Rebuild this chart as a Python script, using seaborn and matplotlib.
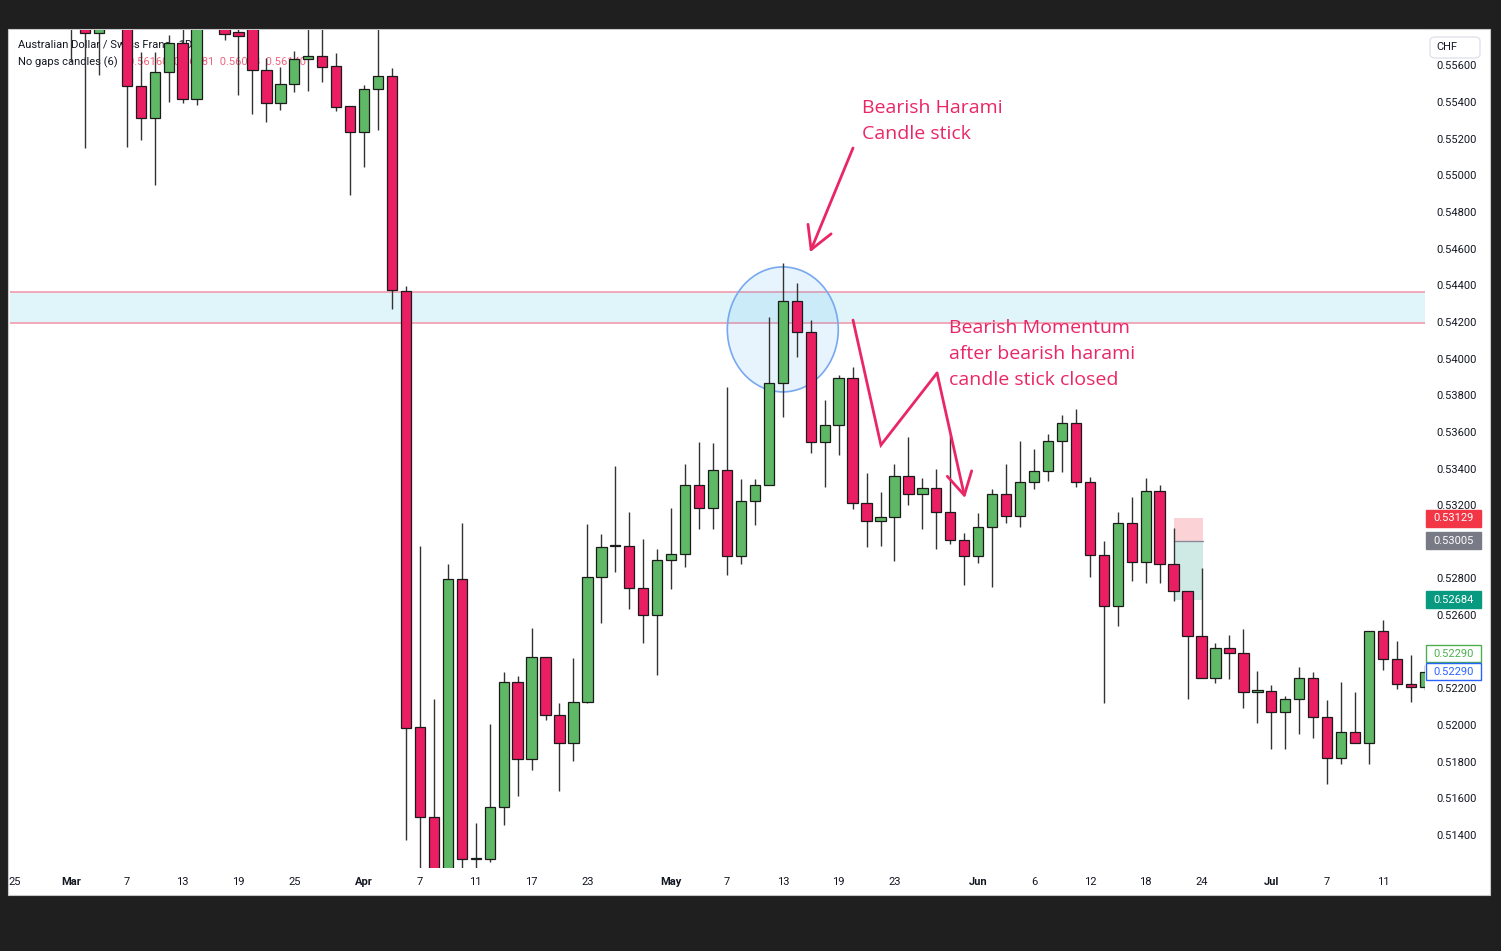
import numpy as np
import pandas as pd
import matplotlib
matplotlib.use("Agg")
import matplotlib.pyplot as plt
import seaborn as sns
from matplotlib.patches import Rectangle, Ellipse, FancyBboxPatch
from matplotlib.transforms import blended_transform_factory

# ---------------- data ----------------
first_day = "2025-03-03"
opens = [0.5598, 0.5588, 0.55777, 0.5590, 0.5598, 0.55487, 0.55313, 0.55564, 0.55722, 0.55416,
         0.5584, 0.5590, 0.5578, 0.5582, 0.55575, 0.55395, 0.55498, 0.55635, 0.55651, 0.55596,
         0.55378, 0.55236, 0.55471, 0.55542, 0.54369, 0.51989, 0.51498, 0.5115, 0.52797, 0.51269,
         0.51269, 0.51553, 0.52235, 0.51815, 0.52371, 0.52055, 0.51902, 0.52126, 0.52808, 0.52977,
         0.52977, 0.52748, 0.52601, 0.52901, 0.52933, 0.5331, 0.53184, 0.53392, 0.52923, 0.53223,
         0.5331, 0.53867, 0.54314, 0.54145, 0.53545, 0.53637, 0.53894, 0.53212, 0.53114, 0.53135,
         0.53359, 0.53261, 0.53294, 0.53163, 0.5301, 0.52923, 0.53081, 0.53261, 0.53141, 0.53326,
         0.53386, 0.5355, 0.53648, 0.53326, 0.52928, 0.5265, 0.53103, 0.5289, 0.53277, 0.52879,
         0.52732, 0.52486, 0.52257, 0.5242, 0.52393, 0.5218, 0.52186, 0.52071, 0.52142, 0.52257,
         0.52044, 0.5182, 0.51962, 0.51902, 0.52513, 0.5236, 0.52224, 0.52208]
highs = [0.5603, 0.5592, 0.5596, 0.5605, 0.5603, 0.55673, 0.55673, 0.55766, 0.5581, 0.5590,
         0.5595, 0.5593, 0.5586, 0.5586, 0.5564, 0.55591, 0.5568, 0.5581, 0.5581, 0.5567,
         0.55378, 0.55493, 0.5581, 0.55586, 0.54396, 0.52977, 0.52142, 0.52879, 0.53103, 0.51465,
         0.52006, 0.5229, 0.52268, 0.5253, 0.52371, 0.5212, 0.52366, 0.53097, 0.53043, 0.53414,
         0.53163, 0.53015, 0.52961, 0.53184, 0.53425, 0.53545, 0.53539, 0.53845, 0.53343, 0.53343,
         0.54227, 0.54521, 0.54412, 0.5421, 0.53774, 0.5391, 0.53954, 0.53375, 0.53272, 0.53425,
         0.53572, 0.53348, 0.53397, 0.53583, 0.53048, 0.53157, 0.53288, 0.53425, 0.5355, 0.53506,
         0.53588, 0.53692, 0.53725, 0.53354, 0.53004, 0.53163, 0.53244, 0.53348, 0.5331, 0.53075,
         0.52732, 0.52857, 0.52448, 0.52491, 0.52524, 0.52295, 0.52219, 0.52159, 0.52317, 0.5229,
         0.52137, 0.52235, 0.5218, 0.52513, 0.52573, 0.52459, 0.52382, 0.5233]
lows = [0.55618, 0.55149, 0.55547, 0.5584, 0.55154, 0.55193, 0.54947, 0.55400, 0.55395, 0.55384,
        0.5581, 0.5574, 0.55438, 0.55335, 0.55291, 0.55356, 0.55455, 0.5546, 0.55509, 0.55351,
        0.54892, 0.55045, 0.55247, 0.5427, 0.51373, 0.51198, 0.5098, 0.5100, 0.5118, 0.5120,
        0.51253, 0.51455, 0.51613, 0.51755, 0.52028, 0.5164, 0.51804, 0.5212, 0.52557, 0.52835,
        0.52633, 0.52448, 0.52273, 0.52742, 0.52862, 0.5307, 0.5307, 0.52819, 0.52879, 0.53092,
        0.5331, 0.53681, 0.54008, 0.53485, 0.53299, 0.53474, 0.53179, 0.52972, 0.52977, 0.52895,
        0.53201, 0.5307, 0.52961, 0.52988, 0.52764, 0.52884, 0.52753, 0.53103, 0.53081, 0.53288,
        0.53332, 0.53381, 0.53299, 0.52808, 0.5212, 0.52541, 0.52786, 0.52775, 0.52775, 0.52677,
        0.52142, 0.52257, 0.52229, 0.52251, 0.52093, 0.52011, 0.51869, 0.51869, 0.51951, 0.51929,
        0.51678, 0.51787, 0.51902, 0.51787, 0.523, 0.52197, 0.52126, 0.5219]
closes = [0.5588, 0.55777, 0.5590, 0.5600, 0.55487, 0.55313, 0.55564, 0.55722, 0.55416, 0.5584,
          0.5588, 0.5577, 0.5576, 0.55575, 0.55395, 0.55498, 0.55635, 0.55651, 0.55591, 0.55373,
          0.55236, 0.55471, 0.55542, 0.54374, 0.51984, 0.51498, 0.5112, 0.52797, 0.51269, 0.51274,
          0.51553, 0.52235, 0.51815, 0.52371, 0.52055, 0.51902, 0.52126, 0.52808, 0.52972, 0.52983,
          0.52748, 0.52601, 0.52901, 0.52933, 0.5331, 0.53184, 0.53392, 0.52923, 0.53223, 0.5331,
          0.53867, 0.54314, 0.54145, 0.53545, 0.53637, 0.53894, 0.53212, 0.53114, 0.53135, 0.53359,
          0.53261, 0.53294, 0.53163, 0.5301, 0.52923, 0.53081, 0.53261, 0.53141, 0.53326, 0.53386,
          0.5355, 0.53648, 0.53326, 0.52928, 0.5265, 0.53103, 0.5289, 0.53277, 0.52879, 0.52732,
          0.52486, 0.52257, 0.5242, 0.52393, 0.5218, 0.52191, 0.52071, 0.52142, 0.52257, 0.52044,
          0.5182, 0.51962, 0.51902, 0.52513, 0.5236, 0.52224, 0.52208, 0.5229]

tick_dates = ["2025-02-25", "2025-03-03", "2025-03-07", "2025-03-13", "2025-03-19", "2025-03-25",
              "2025-04-01", "2025-04-07", "2025-04-11", "2025-04-17", "2025-04-23", "2025-05-01",
              "2025-05-07", "2025-05-13", "2025-05-19", "2025-05-23", "2025-06-02", "2025-06-06",
              "2025-06-12", "2025-06-18", "2025-06-24", "2025-07-01", "2025-07-07", "2025-07-11"]
tick_labels = ["25", "Mar", "7", "13", "19", "25", "Apr", "7", "11", "17", "23", "May",
               "7", "13", "19", "23", "Jun", "6", "12", "18", "24", "Jul", "7", "11"]
month_names = ["Mar", "Apr", "May", "Jun", "Jul"]
price_ticks = [0.514, 0.516, 0.518, 0.520, 0.522, 0.526, 0.528, 0.532, 0.534, 0.536, 0.538,
               0.540, 0.542, 0.544, 0.546, 0.548, 0.550, 0.552, 0.554, 0.556]

zone_low, zone_high = 0.54194, 0.54363
stop_price, entry_price, target_price = 0.53129, 0.53005, 0.52684
last_price = 0.52290
legend_values = "0.56160  0.56181  0.56098  0.56140"

# ---------------- style ----------------
GREEN = "#5fb865"
RED = "#e91e63"
ANN = "#ea2766"
TXT = "#131722"

sns.set_theme(style="white")
plt.rcParams["font.family"] = ["Roboto", "DejaVu Sans"]

W, H = 1501, 951
fig = plt.figure(figsize=(W / 100, H / 100), dpi=100, facecolor="#1f1f1f")
fig.patches.append(Rectangle((8 / W, 1 - 895 / H), (1490 - 8) / W, (895 - 29) / H,
                             transform=fig.transFigure, facecolor="white",
                             edgecolor="#c8c8c8", linewidth=0.8, zorder=-5))
ax = fig.add_axes([10 / W, 1 - 868 / H, 1415 / W, 838 / H])
ax.set_facecolor("white")
for s in ax.spines.values():
    s.set_visible(False)

df = pd.DataFrame({"open": opens, "high": highs, "low": lows, "close": closes})
df["x"] = np.arange(len(df))
up = df["close"] >= df["open"]
dn = ~up

# zone and circle
ax.axhspan(zone_low, zone_high, color="#e0f5fa", zorder=0.5, lw=0)
ax.axhline(zone_low, color="#f0a3b3", lw=1.3, zorder=0.6)
ax.axhline(zone_high, color="#f0a3b3", lw=1.3, zorder=0.6)
ax.add_patch(Ellipse((51.0, 0.54159), width=7.95, height=0.00682,
                     facecolor=(0.16, 0.62, 0.93, 0.11), edgecolor="#78a8f0", lw=1.2, zorder=1.5))

# position tool boxes
ax.add_patch(Rectangle((79.0, entry_price), 2.1, stop_price - entry_price,
                       facecolor="#fbd3d7", edgecolor="none", zorder=1))
ax.add_patch(Rectangle((79.0, target_price), 2.1, entry_price - target_price,
                       facecolor="#cfe9e4", edgecolor="none", zorder=1))
ax.plot([79.0, 81.1], [entry_price, entry_price], color="#8a8d96", lw=1, zorder=1.1)

# candles
ax.vlines(df["x"], df["low"], df["high"], color="#333333", lw=1.0, zorder=2)
ax.bar(df["x"][up], (df["close"] - df["open"])[up], bottom=df["open"][up], width=0.74,
       color=GREEN, edgecolor="#1b1b1b", linewidth=0.9, zorder=3)
ax.bar(df["x"][dn], (df["open"] - df["close"])[dn], bottom=df["close"][dn], width=0.74,
       color=RED, edgecolor="#1b1b1b", linewidth=0.9, zorder=3)

ax.set_xlim(-4.371, 97.013)
ax.set_ylim(0.512200, 0.557929)

# axes ticks
tick_pos = [int(np.busday_count(first_day, d)) for d in tick_dates]
ax.set_xticks(tick_pos)
ax.set_xticklabels(tick_labels)
for lab in ax.get_xticklabels():
    if lab.get_text() in month_names:
        lab.set_fontweight("bold")
ax.tick_params(axis="x", length=0, pad=6.5, labelsize=8, labelcolor=TXT)
ax.yaxis.tick_right()
ax.set_yticks(price_ticks)
ax.set_yticklabels([f"{p:.5f}" for p in price_ticks])
ax.tick_params(axis="y", length=0, pad=8.5, labelsize=8, labelcolor=TXT)
ax.grid(False)

# price labels on the scale
bt = blended_transform_factory(ax.transAxes, ax.transData)
box_h = 17 * (0.557929 - 0.512200) / 838
def price_label(price, text, fc, tc, ec=None, dy=0.0):
    y = price + dy
    ax.add_patch(Rectangle((1.0008, y - box_h / 2), 55 / 1415, box_h, transform=bt,
                           facecolor=fc, edgecolor=ec if ec else fc, lw=1, clip_on=False, zorder=5))
    ax.text(1.0008 + 27.5 / 1415, y, text, transform=bt, ha="center", va="center",
            fontsize=8, color=tc, clip_on=False, zorder=6)

price_label(stop_price, f"{stop_price:.5f}", "#f23645", "white")
price_label(entry_price, f"{entry_price:.5f}", "#787b86", "white")
price_label(target_price, f"{target_price:.5f}", "#089981", "white")
price_label(last_price, f"{last_price:.5f}", "white", "#4caf50", ec="#4caf50", dy=18 * (0.557929 - 0.512200) / 838)
price_label(last_price, f"{last_price:.5f}", "white", "#2962ff", ec="#2962ff")

# currency box
fig.patches.append(FancyBboxPatch((1430 / W, 1 - 58 / H), 50 / W, 21 / H,
                                  boxstyle="round,pad=0,rounding_size=0.004",
                                  transform=fig.transFigure, facecolor="white",
                                  edgecolor="#e0e3eb", lw=1, zorder=10))
fig.text(1447 / W, 1 - 47 / H, "CHF", ha="center", va="center", fontsize=8, color=TXT, zorder=11)

# legend
ax.text(8 / 1415, (868 - 44) / 838, "Australian Dollar / Swiss Franc · 1D ·", transform=ax.transAxes,
        ha="left", va="center", fontsize=8, color=TXT, zorder=1)
ax.text(8 / 1415, (868 - 62) / 838, "No gaps candles (6)", transform=ax.transAxes,
        ha="left", va="center", fontsize=8, color=TXT, zorder=1)
ax.text(118 / 1415, (868 - 62) / 838, legend_values, transform=ax.transAxes,
        ha="left", va="center", fontsize=8, color="#f2637e", zorder=1)

# annotations
afont = dict(family=["Open Sans", "DejaVu Sans"], fontsize=14, color=ANN)
ax.text(56.67, 0.55340, "Bearish Harami", va="baseline", ha="left", zorder=7, **afont)
ax.text(56.67, 0.55198, "Candle stick", va="baseline", ha="left", zorder=7, **afont)
ax.text(62.91, 0.54140, "Bearish Momentum", va="baseline", ha="left", zorder=7, **afont)
ax.text(62.91, 0.53998, "after bearish harami", va="baseline", ha="left", zorder=7, **afont)
ax.text(62.91, 0.53856, "candle stick closed", va="baseline", ha="left", zorder=7, **afont)

arrow = dict(arrowstyle="->,head_length=0.8,head_width=0.45", color=ANN, lw=2,
             shrinkA=0, shrinkB=0, mutation_scale=20)
ax.annotate("", xy=(52.95, 0.5458), xytext=(56.03, 0.55149), arrowprops=arrow, zorder=7)
ax.plot([56.03, 58.03, 62.05], [0.5421, 0.53528, 0.53921], color=ANN, lw=2, zorder=7,
        solid_joinstyle="miter")
ax.annotate("", xy=(64.05, 0.53239), xytext=(62.05, 0.53921), arrowprops=arrow, zorder=7)

fig.savefig("out.png", dpi=100, facecolor=fig.get_facecolor())
